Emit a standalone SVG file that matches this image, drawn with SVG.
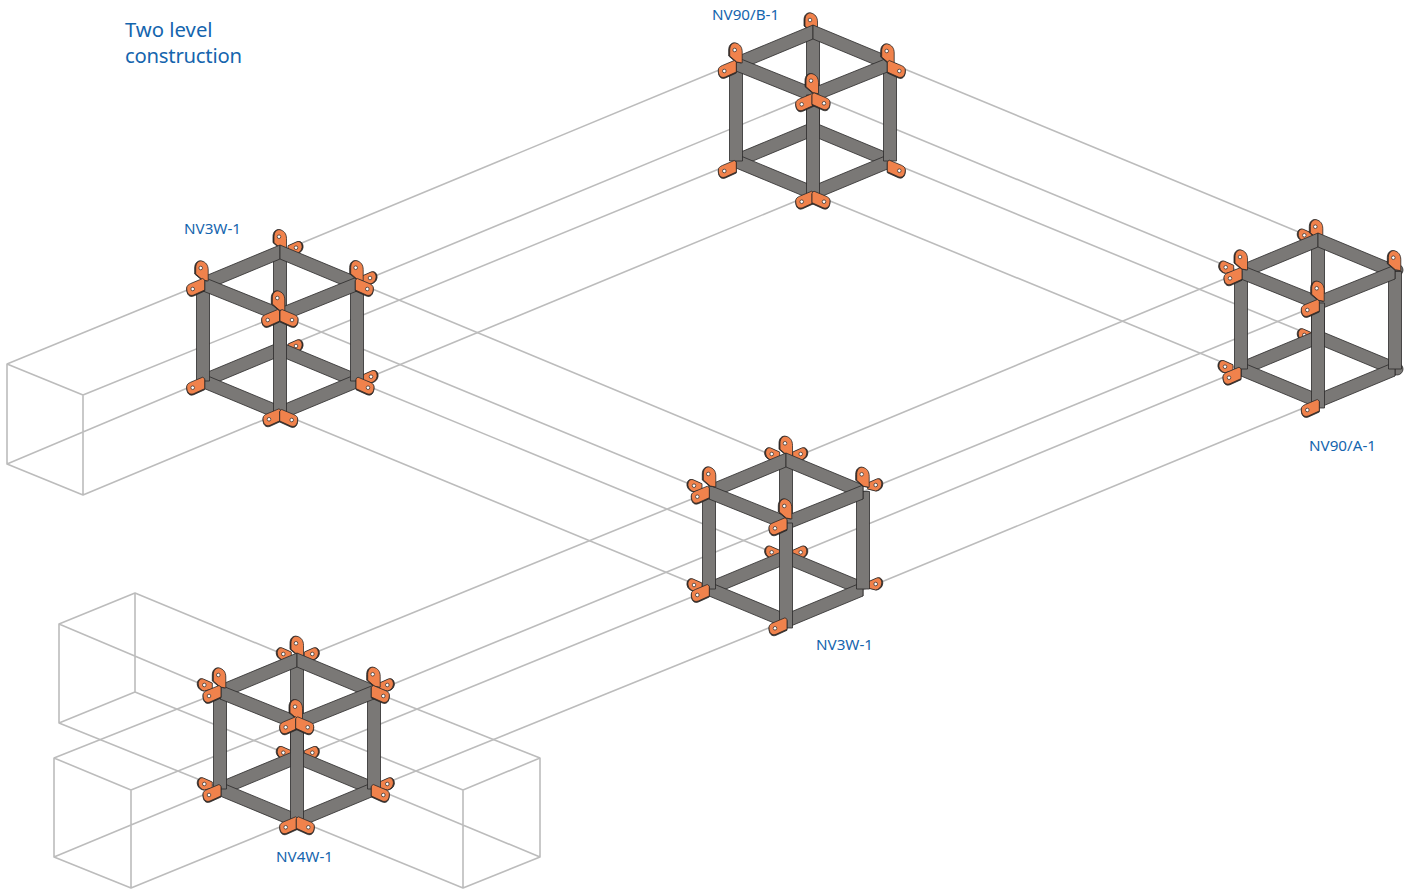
<svg xmlns="http://www.w3.org/2000/svg" xmlns:xlink="http://www.w3.org/1999/xlink" width="1409" height="890" viewBox="0 0 1409 890">
<style>
.c{fill:none;stroke:#bcbcbc;stroke-width:1.6;stroke-linejoin:round}
.b{fill:#7a7876;stroke:#2b2a29;stroke-width:.8;stroke-linejoin:round}
.o{fill:#f0824c;stroke:#2b2a29;stroke-width:.8;stroke-linejoin:round}
.d{fill:#3a2a22;stroke:#2b2a29;stroke-width:.8;stroke-linejoin:round}
.h{fill:#fff;stroke:#2b2a29;stroke-width:.7}
text{font-family:"Noto Sans","Open Sans","Liberation Sans",sans-serif;fill:#1565ae}
.l{font-size:15.2px}
.t{font-size:20.3px}
</style>
<defs>
<g id="frame">
<polygon class="b" points="-6.5,0 6.5,0 6.5,97 -6.5,97"/>
<polygon class="b" points="0,90 -77,122 -77,136 0,104"/>
<polygon class="b" points="0,90 77,122 77,136 0,104"/>
<polygon class="b" points="-77,122 0,154 0,168 -77,136"/>
<polygon class="b" points="77,122 0,154 0,168 77,136"/>
<polygon class="b" points="-83.5,31.5 -70.5,31.5 -70.5,129 -83.5,129"/>
<polygon class="b" points="83.5,31.5 70.5,31.5 70.5,129 83.5,129"/>
<polygon class="b" points="0,-7 -77,25 -77,39 0,7"/>
<polygon class="b" points="0,-7 77,25 77,39 0,7"/>
<polygon class="b" points="-77,25 0,56 0,70 -77,39"/>
<polygon class="b" points="77,25 0,56 0,70 77,39"/>
<polygon class="b" points="-6.5,63 6.5,63 6.5,168 -6.5,168"/>
</g>
<path id="up" d="M-5,0C-5,-5 -2,-7.5 1,-7C5,-6 7.5,-3 7.5,2L7.5,13L2,12L-5,6Z"/>
<path id="lf" d="M-6,-1C-6,-3.5 -4,-4.5 -2,-5.5L10,-10.5L12,-9L12,1L1,6C-3,7.5 -6,5 -6,-1Z"/>
<path id="rt" d="M6,-1C6,-3.5 4,-4.5 2,-5.5L-10,-10.5L-12,-9L-12,1L-1,6C3,7.5 6,5 6,-1Z"/>
<path id="sr" d="M-8,-2L1,-6C4,-7 6.5,-4 6,0C5.5,3 3,5.5 0,6L-8,4Z"/>
<path id="sl" d="M8,-2L-1,-6C-4,-7 -6.5,-4 -6,0C-5.5,3 -3,5.5 0,6L8,4Z"/>
<g id="u"><use href="#up" class="d" x="-1"/><use href="#up" class="o"/><circle class="h" r="1.8"/></g>
<g id="l"><use href="#lf" class="d" y="1"/><use href="#lf" class="o"/><circle class="h" r="1.8"/></g>
<g id="r"><use href="#rt" class="d" y="1"/><use href="#rt" class="o"/><circle class="h" r="1.8"/></g>
<g id="s"><use href="#sr" class="d" x="1"/><use href="#sr" class="o"/><circle class="h" r="1.8"/></g>
<g id="t"><use href="#sl" class="d" x="-1"/><use href="#sl" class="o"/><circle class="h" r="1.8"/></g>
</defs>
<rect width="1409" height="890" fill="#fff"/>
<g id="connectors">
<path class="c" d="M280,252L736,63M358,283L813,95M358,382L813,194M280,349L736,162"/>
<path class="c" d="M280,315L709,492M358,283L786,461M280,413L709,590M358,382L786,558"/>
<path class="c" d="M890,63L1318,240M813,95L1241,272M890,162L1318,338M813,194L1241,370"/>
<path class="c" d="M786,461L1241,272M862,492L1318,305M786,558L1241,370M862,590L1318,402"/>
<path class="c" d="M297,660L709,492M374,692L786,523M297,758L709,590M374,788L786,621"/>
<path class="c" d="M280,252L7,364M280,315L83,395M280,349L7,464M280,413L83,495M7,364L83,395V495L7,464Z"/>
<path class="c" d="M297,660L135,593M220,692L59,624M220,788L59,723M297,758L135,692M135,593L59,624V723L135,692Z"/>
<path class="c" d="M220,692L54,758M297,723L131,790M220,788L54,857M297,820L131,888M54,758L131,790V888L54,857Z"/>
<path class="c" d="M297,723L463,790M374,692L540,758M297,820L463,888M374,788L540,857M463,790L540,758V857L463,888Z"/>
</g>
<text class="t" x="125" y="37">Two level</text>
<text class="t" x="125" y="63" textLength="117">construction</text>
<g id="NV3W-1-a">
<text class="l" x="184" y="234">NV3W-1</text>
<use href="#s" x="296" y="247.7"/><use href="#u" x="279" y="236.7"/>
<use href="#s" x="370" y="278"/>
<use href="#s" x="296" y="346"/><use href="#s" x="371" y="376.7"/>
<use href="#frame" x="280" y="252"/>
<use href="#u" x="200.7" y="268"/><use href="#l" x="192.7" y="289"/>
<use href="#u" x="355.7" y="267.7"/><use href="#r" x="367.3" y="289"/>
<use href="#u" x="277.3" y="298"/><use href="#l" x="267.7" y="320"/><use href="#r" x="292" y="320"/>
<use href="#l" x="192.7" y="387.7"/><use href="#r" x="368" y="387.7"/>
<use href="#l" x="269" y="419.3"/><use href="#r" x="291.7" y="420"/>
</g>
<g id="NV90-B-1">
<text class="l" x="712" y="20">NV90/B-1</text>
<use href="#u" x="810" y="20"/>
<use href="#frame" x="813" y="32"/>
<use href="#u" x="734.7" y="50"/><use href="#l" x="724.3" y="71"/>
<use href="#u" x="886.7" y="51"/><use href="#r" x="899.3" y="71"/>
<use href="#u" x="811" y="80.7"/><use href="#l" x="801.7" y="104.3"/><use href="#r" x="824" y="103.3"/>
<use href="#l" x="724.3" y="171"/><use href="#r" x="899.3" y="170.7"/>
<use href="#l" x="801.7" y="201.7"/><use href="#r" x="824" y="201.7"/>
</g>
<g id="NV90-A-1">
<text class="l" x="1309" y="451">NV90/A-1</text>
<use href="#t" x="1304.3" y="235.3"/><use href="#u" x="1315.3" y="226.7"/>
<use href="#t" x="1225.7" y="267.3"/><use href="#t" x="1304.3" y="335"/><use href="#t" x="1225" y="366.7"/>
<circle class="b" cx="1397" cy="270" r="6"/><circle class="b" cx="1397" cy="369" r="6"/>
<use href="#frame" x="1318" y="240"/>
<use href="#u" x="1240" y="257"/><use href="#l" x="1230" y="278.3"/>
<use href="#u" x="1393.3" y="257.7"/>
<use href="#u" x="1316.7" y="288.3"/><use href="#l" x="1307.3" y="310"/>
<use href="#l" x="1229" y="377.7"/><use href="#l" x="1307.3" y="410"/>
</g>
<g id="NV3W-1-b">
<text class="l" x="816" y="650">NV3W-1</text>
<use href="#t" x="771.7" y="454"/><use href="#s" x="800.7" y="454"/><use href="#u" x="785" y="443.3"/>
<use href="#t" x="694" y="485.7"/><use href="#s" x="875.7" y="485"/>
<use href="#t" x="771.7" y="552.3"/><use href="#s" x="800.7" y="552.3"/>
<use href="#t" x="694" y="585"/><use href="#s" x="875.7" y="584"/>
<use href="#frame" x="786" y="460"/>
<use href="#u" x="708.3" y="474"/><use href="#l" x="697.3" y="496.7"/>
<use href="#u" x="861.7" y="474.3"/>
<use href="#u" x="784.3" y="506"/><use href="#l" x="775" y="528.3"/>
<use href="#l" x="697.3" y="595"/><use href="#l" x="775" y="628.3"/>
</g>
<g id="NV4W-1">
<text class="l" x="276" y="862">NV4W-1</text>
<use href="#t" x="283.3" y="654"/><use href="#s" x="312.3" y="654"/><use href="#u" x="296" y="643.3"/>
<use href="#t" x="204.3" y="685"/><use href="#s" x="387.3" y="685"/>
<use href="#t" x="283.3" y="752.7"/><use href="#s" x="312.3" y="752.7"/>
<use href="#t" x="204.3" y="784"/><use href="#s" x="387.3" y="784"/>
<use href="#frame" x="297" y="660"/>
<use href="#u" x="218.3" y="675"/><use href="#l" x="209" y="696"/>
<use href="#u" x="372.7" y="674.3"/><use href="#r" x="383.3" y="696"/>
<use href="#u" x="295" y="706.7"/><use href="#l" x="285.7" y="727.3"/><use href="#r" x="307.7" y="727.3"/>
<use href="#l" x="209" y="795"/><use href="#r" x="383.3" y="795"/>
<use href="#l" x="285.7" y="827.3"/><use href="#r" x="308.3" y="827.3"/>
</g>
</svg>
